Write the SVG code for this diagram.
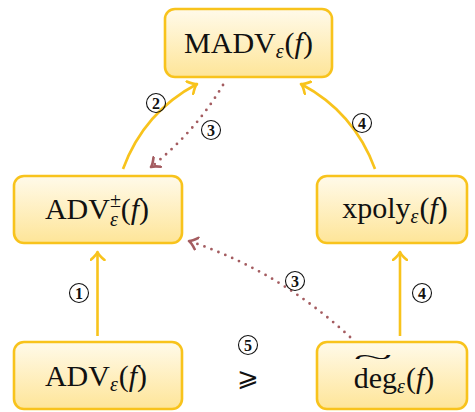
<svg xmlns="http://www.w3.org/2000/svg" width="475" height="412" viewBox="0 0 475 412">
<defs>
<linearGradient id="g" x1="0" y1="0" x2="0" y2="1">
<stop offset="0" stop-color="#fffaea"/>
<stop offset="1" stop-color="#fee598"/>
</linearGradient>
<marker id="ay" viewBox="-9 -8 11 16" markerWidth="11" markerHeight="16" refX="0" refY="0" orient="auto" markerUnits="userSpaceOnUse">
<path d="M-8,-7 Q-3,-1 0,0 Q-3,1 -8,7" fill="none" stroke="#f8c31c" stroke-width="2.6" stroke-linecap="round" stroke-linejoin="round"/>
</marker>
<marker id="am" viewBox="-9 -8 11 16" markerWidth="11" markerHeight="16" refX="0" refY="0" orient="auto" markerUnits="userSpaceOnUse">
<path d="M-8,-6 Q-3,-1 0,0 Q-3,1 -8,6" fill="none" stroke="#a45c60" stroke-width="2.6" stroke-linecap="round" stroke-linejoin="round"/>
</marker>
</defs>
<style>
.box{fill:url(#g);stroke:#f8c31c;stroke-width:2.6}
.t{font-family:"Liberation Serif","DejaVu Serif",serif;font-size:30px;fill:#111;text-anchor:middle}
.i{font-style:italic}
.s{font-size:20px}
.y{fill:none;stroke:#f8c31c;stroke-width:2.6;marker-end:url(#ay)}
.d{fill:none;stroke:#a45c60;stroke-width:2.8;stroke-dasharray:0 7.5;stroke-linecap:round;marker-end:url(#am)}
.c{fill:none;stroke:#111;stroke-width:1.1}
.n{font-family:"Liberation Serif","DejaVu Serif",serif;font-size:16px;font-weight:bold;fill:#111;text-anchor:middle}
</style>
<g id="connectors">
<path class="y" d="M97.5,336 L97.5,252"/>
<path class="y" d="M400,336 L400,252"/>
<path class="y" d="M123,169 Q144,112 197,84"/>
<path class="y" d="M375,169 Q354,112 301,84"/>
<path class="d" d="M223,85 Q195,132 151,167"/>
<path class="d" d="M350,337 Q279,271 189,241"/>
<g id="lbl1"><circle class="c" cx="79" cy="293" r="9.5"/><text class="n" x="79" y="298.5">1</text></g>
<g id="lbl2"><circle class="c" cx="156" cy="103" r="9.5"/><text class="n" x="156" y="108.5">2</text></g>
<g id="lbl3a"><circle class="c" cx="211" cy="130" r="9.5"/><text class="n" x="211" y="135.5">3</text></g>
<g id="lbl4a"><circle class="c" cx="362" cy="123" r="9.5"/><text class="n" x="362" y="128.5">4</text></g>
<g id="lbl3b"><circle class="c" cx="295" cy="281" r="9.5"/><text class="n" x="295" y="286.5">3</text></g>
<g id="lbl4b"><circle class="c" cx="422" cy="293" r="9.5"/><text class="n" x="422" y="298.5">4</text></g>
</g>
<g id="madv">
<rect class="box" x="165" y="9" width="167" height="68" rx="10"/>
<text class="t" x="248.5" y="53">MADV<tspan class="s i" dy="5">ε</tspan><tspan dx="1" dy="-5">(</tspan><tspan class="i">f</tspan>)</text>
</g>
<g id="advpm">
<rect class="box" x="14" y="176" width="168" height="67" rx="10"/>
<text class="t" x="97" y="219">ADV<tspan class="s" dy="-12">±</tspan><tspan class="s i" dx="-11" dy="19">ε</tspan><tspan dx="3" dy="-7">(</tspan><tspan class="i">f</tspan>)</text>
</g>
<g id="xpoly">
<rect class="box" x="317" y="176" width="150" height="67" rx="10"/>
<text class="t" x="395" y="218">xpoly<tspan class="s i" dy="5">ε</tspan><tspan dx="1" dy="-5">(</tspan><tspan class="i">f</tspan>)</text>
</g>
<g id="adv">
<rect class="box" x="14" y="342" width="168" height="67" rx="10"/>
<text class="t" x="96" y="386">ADV<tspan class="s i" dy="5">ε</tspan><tspan dx="1" dy="-5">(</tspan><tspan class="i">f</tspan>)</text>
</g>
<g id="deg">
<rect class="box" x="317" y="342" width="150" height="67" rx="10"/>
<text class="t" x="394" y="388">deg<tspan class="s i" dy="5">ε</tspan><tspan dx="1" dy="-5">(</tspan><tspan class="i">f</tspan>)</text>
<text class="t" style="font-size:20px" transform="translate(373,364) scale(3.6,1)" x="0" y="0">~</text>
</g>
<g id="rel5">
<circle class="c" cx="248" cy="345" r="9.5"/><text class="n" x="248" y="350.5">5</text>
<text style="font-family:'DejaVu Sans','DejaVu Serif',sans-serif;font-size:26px;fill:#111;text-anchor:middle" x="248" y="386">⩾</text>
</g>
</svg>
